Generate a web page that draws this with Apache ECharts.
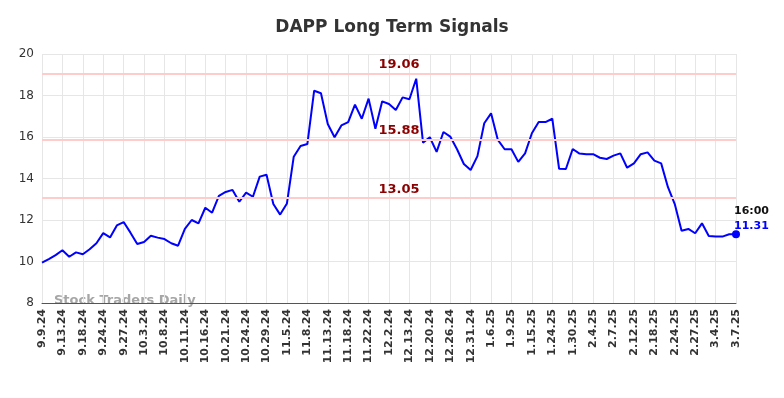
<!DOCTYPE html>
<html>
<head>
<meta charset="utf-8">
<script src="https://cdn.jsdelivr.net/npm/echarts@6/dist/echarts.min.js"></script>
<style>
    html, body { margin: 0; padding: 0; background: #fff; }
    #chart { width: 784px; height: 398px; }
</style>
</head>
<body>
<div id="chart"></div>
<script>
// 日期（每3个点显示一个标签）
var dates = [
    '9.9.24', '9.10.24', '9.11.24', '9.13.24', '9.16.24', '9.17.24', '9.18.24', '9.19.24', '9.20.24',
    '9.24.24', '9.25.24', '9.26.24', '9.27.24', '9.30.24', '10.1.24', '10.3.24', '10.4.24', '10.7.24',
    '10.8.24', '10.9.24', '10.10.24', '10.11.24', '10.14.24', '10.15.24', '10.16.24', '10.17.24', '10.18.24',
    '10.21.24', '10.22.24', '10.23.24', '10.24.24', '10.25.24', '10.28.24', '10.29.24', '10.31.24', '11.4.24',
    '11.5.24', '11.6.24', '11.7.24', '11.8.24', '11.11.24', '11.12.24', '11.13.24', '11.14.24', '11.15.24',
    '11.18.24', '11.19.24', '11.21.24', '11.22.24', '11.26.24', '11.29.24', '12.2.24', '12.5.24', '12.10.24',
    '12.13.24', '12.16.24', '12.18.24', '12.20.24', '12.23.24', '12.24.24', '12.26.24', '12.27.24', '12.30.24',
    '12.31.24', '1.2.25', '1.3.25', '1.6.25', '1.7.25', '1.8.25', '1.9.25', '1.13.25', '1.14.25',
    '1.15.25', '1.17.25', '1.22.25', '1.24.25', '1.27.25', '1.29.25', '1.30.25', '1.31.25', '2.3.25',
    '2.4.25', '2.5.25', '2.6.25', '2.7.25', '2.10.25', '2.11.25', '2.12.25', '2.13.25', '2.14.25',
    '2.18.25', '2.19.25', '2.21.25', '2.24.25', '2.25.25', '2.26.25', '2.27.25', '2.28.25', '3.3.25',
    '3.4.25', '3.5.25', '3.6.25', '3.7.25'
];

// 收盘价
var prices = [
    9.94, 10.12, 10.31, 10.54, 10.23, 10.44, 10.35, 10.59, 10.88,
    11.37, 11.16, 11.74, 11.90, 11.39, 10.84, 10.94, 11.24, 11.15,
    11.08, 10.88, 10.76, 11.57, 12.00, 11.84, 12.59, 12.35, 13.16,
    13.35, 13.45, 12.88, 13.32, 13.12, 14.09, 14.18, 12.77, 12.26,
    12.80, 15.05, 15.57, 15.66, 18.23, 18.11, 16.63, 15.99, 16.56,
    16.72, 17.56, 16.88, 17.85, 16.40, 17.72, 17.59, 17.30, 17.91,
    17.82, 18.81, 15.73, 15.99, 15.28, 16.24, 16.02, 15.41, 14.70,
    14.41, 15.08, 16.66, 17.14, 15.86, 15.41, 15.41, 14.80, 15.21,
    16.18, 16.72, 16.72, 16.88, 14.47, 14.46, 15.42, 15.20, 15.17,
    15.17, 15.00, 14.94, 15.10, 15.21, 14.52, 14.73, 15.17, 15.26,
    14.86, 14.73, 13.58, 12.77, 11.48, 11.57, 11.36, 11.84, 11.23,
    11.21, 11.20, 11.31, 11.31
];

// 信号线
var signalLevels = [19.06, 15.88, 13.05];

var lastTime = '16:00';

var chart = echarts.init(document.getElementById('chart'));

var lineData = prices.map(function (v, i) {
    if (i === prices.length - 1) {
        return {
            value: v,
            symbol: 'circle',
            symbolSize: 8,
            itemStyle: { color: '#0000ff' },
            label: {
                show: true,
                position: [2, -27],
                align: 'left',
                verticalAlign: 'top',
                formatter: '{t|' + lastTime + '}\n{v|' + v.toFixed(2) + '}',
                rich: {
                    t: { color: '#111', fontWeight: 'bold', fontSize: 11, lineHeight: 15, fontFamily: 'DejaVu Sans' },
                    v: { color: '#0000ff', fontWeight: 'bold', fontSize: 11, lineHeight: 15, fontFamily: 'DejaVu Sans' }
                }
            }
        };
    }
    return v;
});

chart.setOption({
    animation: false,
    title: {
        text: 'DAPP Long Term Signals',
        left: 'center',
        top: 14,
        textStyle: {
            fontFamily: 'DejaVu Sans',
            fontSize: 17,
            fontWeight: 'bold',
            color: '#333'
        }
    },
    grid: {
        left: 42,
        right: 48,
        top: 54,
        bottom: 95
    },
    xAxis: {
        type: 'category',
        data: dates,
        boundaryGap: false,
        axisLine: { lineStyle: { color: '#555', width: 1 } },
        axisTick: { show: false },
        axisLabel: {
            interval: 2,
            rotate: 90,
            margin: 6,
            fontFamily: 'DejaVu Sans',
            fontSize: 11,
            fontWeight: 'bold',
            color: '#333'
        },
        splitLine: {
            show: true,
            interval: 2,
            lineStyle: { color: '#e6e6e6', width: 1 }
        }
    },
    yAxis: {
        type: 'value',
        min: 8,
        max: 20,
        interval: 2,
        axisLine: { show: false },
        axisTick: { show: false },
        axisLabel: {
            margin: 8,
            fontFamily: 'DejaVu Sans',
            fontSize: 12,
            color: '#333'
        },
        splitLine: { lineStyle: { color: '#e6e6e6', width: 1 } }
    },
    graphic: [{
        type: 'text',
        left: 54,
        top: 294,
        silent: true,
        style: {
            text: 'Stock Traders Daily',
            fontFamily: 'DejaVu Sans',
            fontSize: 13,
            fontWeight: 'bold',
            fill: '#a6a6a6'
        }
    }],
    series: [{
        type: 'line',
        data: lineData,
        symbol: 'none',
        showSymbol: true,
        lineStyle: { color: '#0000ff', width: 2 },
        itemStyle: { color: '#0000ff' },
        markLine: {
            silent: true,
            symbol: 'none',
            lineStyle: { color: '#ffcccc', width: 2, type: 'solid' },
            label: {
                show: true,
                position: 'insideMiddleTop',
                distance: 2,
                offset: [10, 0],
                fontFamily: 'DejaVu Sans',
                fontSize: 13,
                fontWeight: 'bold',
                color: '#8b0000',
                formatter: function (p) { return p.value.toFixed(2); }
            },
            data: signalLevels.map(function (v) { return { yAxis: v }; })
        },
        z: 3
    }]
});
</script>
</body>
</html>
